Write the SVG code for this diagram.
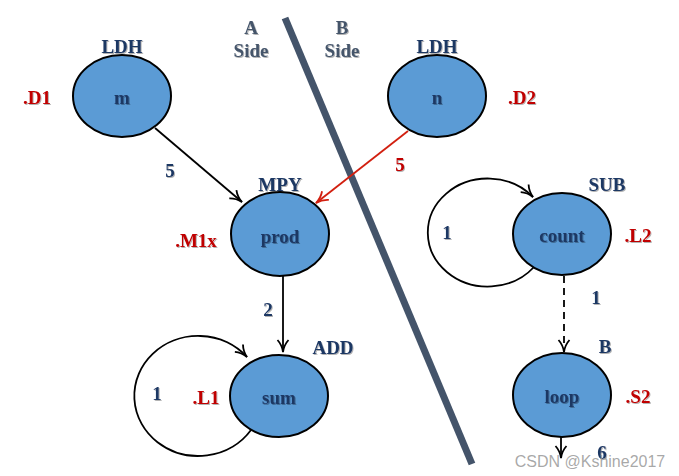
<svg xmlns="http://www.w3.org/2000/svg" width="679" height="476" viewBox="0 0 679 476">
<style>
.node{fill:#5b9bd5;stroke:#000;stroke-width:2}
.t{font-family:"Liberation Serif","Times New Roman",serif;font-weight:bold;font-size:19px;text-anchor:middle;fill:#1f3864;filter:url(#sh)}
.r{fill:#c00000}
.g{fill:#44546a}
.e{fill:none;stroke:#000;stroke-width:1.8}
</style>
<defs>
<filter id="sh" x="-20%" y="-20%" width="140%" height="140%">
<feDropShadow dx="1" dy="1" stdDeviation="0.6" flood-color="#000" flood-opacity="0.3"/>
</filter>
<marker id="ah" viewBox="0 0 14 14" refX="13" refY="7" markerWidth="14" markerHeight="14" markerUnits="userSpaceOnUse" orient="auto">
<path d="M1,1.5 Q6,6 13,7 Q6,8 1,12.5" fill="none" stroke="#000" stroke-width="1.8"/>
</marker>
<marker id="ahr" viewBox="0 0 14 14" refX="13" refY="7" markerWidth="14" markerHeight="14" markerUnits="userSpaceOnUse" orient="auto">
<path d="M1,1.5 Q6,6 13,7 Q6,8 1,12.5" fill="none" stroke="#d21f0f" stroke-width="1.8"/>
</marker>
</defs>
<rect width="679" height="476" fill="#fff"/>
<line x1="285" y1="18" x2="472" y2="464" stroke="#44546a" stroke-width="7"/>
<text class="t g" x="251" y="34">A</text>
<text class="t g" x="251" y="57">Side</text>
<text class="t g" x="342" y="34">B</text>
<text class="t g" x="342" y="57">Side</text>
<g id="connectors">
<line class="e" x1="155" y1="128" x2="242" y2="202" marker-end="url(#ah)"/>
<line x1="408" y1="131" x2="316" y2="203" stroke="#d21f0f" stroke-width="1.8" marker-end="url(#ahr)"/>
<line class="e" x1="283" y1="276" x2="283" y2="352" marker-end="url(#ah)"/>
<path class="e" d="M251,430 A64,60 0 1 1 247,357" marker-end="url(#ah)"/>
<path class="e" d="M534,267 A60,54 0 1 1 533,197" marker-end="url(#ah)"/>
<line class="e" x1="564" y1="276" x2="564" y2="352" stroke-dasharray="7,5" marker-end="url(#ah)"/>
<line class="e" x1="561" y1="437" x2="561" y2="458" marker-end="url(#ah)"/>
<text class="t" x="170" y="177">5</text>
<text class="t r" x="400" y="171">5</text>
<text class="t" x="268" y="316">2</text>
<text class="t" x="157" y="400">1</text>
<text class="t" x="447" y="239">1</text>
<text class="t" x="596" y="304">1</text>
<text class="t" x="602" y="459">6</text>
</g>
<g id="node-m">
<ellipse class="node" cx="122" cy="96" rx="49" ry="41"/>
<text class="t" x="122" y="104">m</text>
<text class="t" x="122" y="53">LDH</text>
<text class="t r" x="37" y="104">.D1</text>
</g>
<g id="node-n">
<ellipse class="node" cx="437" cy="96" rx="49" ry="41"/>
<text class="t" x="437" y="104">n</text>
<text class="t" x="437" y="53">LDH</text>
<text class="t r" x="522" y="104">.D2</text>
</g>
<g id="node-prod">
<ellipse class="node" cx="280" cy="234" rx="49" ry="42"/>
<text class="t" x="280" y="243">prod</text>
<text class="t" x="280" y="191">MPY</text>
<text class="t r" x="196" y="247">.M1x</text>
</g>
<g id="node-sum">
<ellipse class="node" cx="279" cy="396" rx="49" ry="41"/>
<text class="t" x="279" y="404">sum</text>
<text class="t" x="333" y="354">ADD</text>
<text class="t r" x="206" y="404">.L1</text>
</g>
<g id="node-count">
<ellipse class="node" cx="562" cy="234" rx="49" ry="41"/>
<text class="t" x="562" y="242">count</text>
<text class="t" x="607" y="191">SUB</text>
<text class="t r" x="638" y="242">.L2</text>
</g>
<g id="node-loop">
<ellipse class="node" cx="562" cy="395" rx="49" ry="42"/>
<text class="t" x="562" y="403">loop</text>
<text class="t" x="605" y="353">B</text>
<text class="t r" x="638" y="403">.S2</text>
</g>
<text x="590" y="467" font-family="'Liberation Sans',Arial,sans-serif" font-size="16" fill="#999" fill-opacity="0.85" text-anchor="middle">CSDN @Kshine2017</text>
</svg>
